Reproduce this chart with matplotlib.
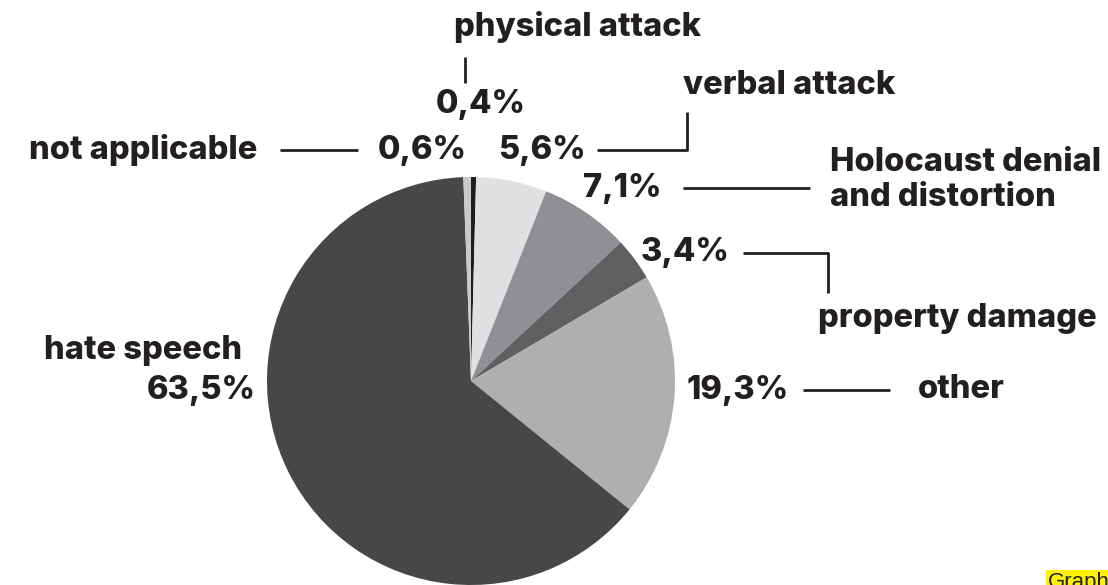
import matplotlib.pyplot as plt

# Share of incidents by category (%), clockwise from 12 o'clock
categories = ['physical attack', 'verbal attack', 'Holocaust denial\nand distortion',
              'property damage', 'other', 'hate speech', 'not applicable']
shares = [0.4, 5.6, 7.1, 3.4, 19.3, 63.5, 0.6]
share_labels = ['0,4%', '5,6%', '7,1%', '3,4%', '19,3%', '63,5%', '0,6%']
colors = ['#1e1e1e', '#dfe0e2', '#8f9093', '#5f6062', '#aeafb1', '#464749', '#c9cacc']

W, H = 1108, 585
plt.rcParams['font.family'] = ['Inter', 'DejaVu Sans']

fig = plt.figure(figsize=(W / 100, H / 100), dpi=100)
ax = fig.add_axes([0, 0, 1, 1])


def Y(y):
    # layout is worked out from the top edge
    return H - y


ax.pie(shares, colors=colors, startangle=90, counterclock=False,
       center=(471, Y(381)), radius=204, frame=True,
       wedgeprops=dict(linewidth=0))
ax.set_xlim(0, W)
ax.set_ylim(0, H)
ax.set_aspect('equal')
ax.axis('off')

big = dict(fontsize=23.5, fontweight='heavy', color='#231f20')


def line(xs, ys):
    ax.plot(xs, [Y(v) for v in ys], color='#231f20', lw=2, solid_capstyle='butt')


# physical attack
ax.text(578, Y(27), categories[0], ha='center', va='center', **big)
line([465, 465], [57, 83])
ax.text(481, Y(105), share_labels[0], ha='center', va='center', **big)

# verbal attack
ax.text(683, Y(86), categories[1], ha='left', va='center', **big)
line([597, 687, 687], [150, 150, 112])
ax.text(586, Y(150), share_labels[1], ha='right', va='center', **big)

# not applicable
ax.text(257, Y(150), categories[6], ha='right', va='center', **big)
line([280, 358], [150, 150])
ax.text(378, Y(150), share_labels[6], ha='left', va='center', **big)

# Holocaust denial and distortion
ax.text(662, Y(188), share_labels[2], ha='right', va='center', **big)
line([683, 810], [188, 188])
ax.text(830, Y(180), categories[2], ha='left', va='center', linespacing=1.2, **big)

# property damage
ax.text(730, Y(253), share_labels[3], ha='right', va='center', **big)
line([743, 828, 828], [253, 253, 293])
ax.text(818, Y(318), categories[3], ha='left', va='center', **big)

# other
ax.text(789, Y(390), share_labels[4], ha='right', va='center', **big)
line([803, 890], [390, 390])
ax.text(918, Y(390), categories[4], ha='left', va='center', **big)

# hate speech
ax.text(242, Y(350), categories[5], ha='right', va='center', **big)
ax.text(256, Y(390), share_labels[5], ha='right', va='center', **big)

# credit tag in the corner
ax.text(1048, Y(588), 'Graph', ha='left', va='baseline', fontsize=16,
        family='Liberation Sans', color='#231f20',
        bbox=dict(facecolor='#fff200', edgecolor='none', pad=1.5))

fig.savefig('out.png', dpi=100)
